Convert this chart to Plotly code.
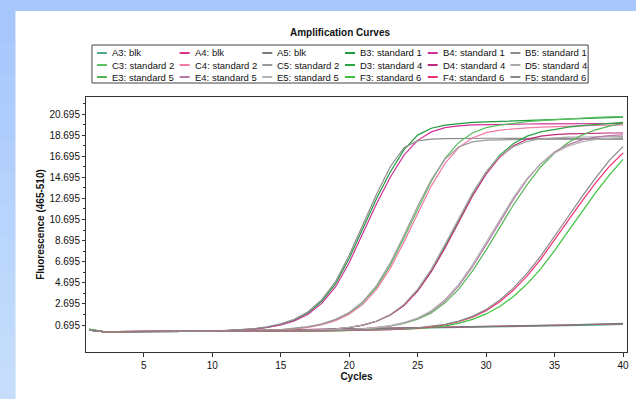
import plotly.graph_objects as go
import numpy as np

cycles = list(range(1, 41))

series_names = ["A3: blk", "A4: blk", "A5: blk",
                "B3: standard 1", "B4: standard 1", "B5: standard 1",
                "C3: standard 2", "C4: standard 2", "C5: standard 2",
                "D3: standard 4", "D4: standard 4", "D5: standard 4",
                "E3: standard 5", "E4: standard 5", "E5: standard 5",
                "F3: standard 6", "F4: standard 6", "F5: standard 6"]

A3 = [0.25,0.08,0.06,0.06,0.07,0.08,0.09,0.10,0.11,0.12,0.13,0.14,0.16,0.17,0.18,0.20,0.21,0.23,0.24,0.26,
      0.28,0.30,0.32,0.34,0.36,0.38,0.40,0.42,0.45,0.47,0.50,0.52,0.55,0.57,0.60,0.63,0.66,0.69,0.72,0.75]
A4 = [0.20,0.08,0.07,0.07,0.08,0.09,0.10,0.11,0.12,0.14,0.15,0.17,0.18,0.20,0.22,0.23,0.25,0.27,0.29,0.31,
      0.33,0.35,0.37,0.39,0.41,0.44,0.46,0.48,0.51,0.53,0.56,0.58,0.61,0.64,0.67,0.70,0.73,0.76,0.79,0.82]
A5 = [0.22,0.07,0.06,0.07,0.08,0.09,0.10,0.11,0.13,0.14,0.16,0.17,0.19,0.21,0.22,0.24,0.26,0.28,0.30,0.32,
      0.34,0.36,0.38,0.40,0.43,0.45,0.47,0.50,0.52,0.55,0.57,0.60,0.63,0.66,0.69,0.72,0.75,0.78,0.82,0.86]
B3 = [0.30,0.10,0.07,0.07,0.07,0.08,0.09,0.10,0.11,0.13,0.16,0.22,0.32,0.48,0.74,1.15,1.85,2.95,4.60,7.00,
      9.90,12.70,15.20,17.30,18.70,19.35,19.65,19.80,19.90,19.95,20.00,20.05,20.10,20.15,20.20,20.25,20.28,20.32,20.36,20.40]
B4 = [0.25,0.09,0.07,0.07,0.08,0.08,0.09,0.10,0.12,0.14,0.17,0.22,0.31,0.46,0.70,1.08,1.72,2.75,4.30,6.60,
      9.40,12.20,14.70,16.80,18.20,19.00,19.40,19.58,19.66,19.70,19.72,19.74,19.75,19.76,19.77,19.78,19.79,19.80,19.80,19.80]
B5 = [0.22,0.08,0.07,0.07,0.07,0.08,0.09,0.10,0.12,0.14,0.18,0.24,0.35,0.52,0.80,1.24,1.95,3.10,4.80,7.30,
      10.20,13.10,15.70,17.50,18.15,18.32,18.37,18.40,18.40,18.40,18.40,18.40,18.40,18.40,18.40,18.40,18.38,18.38,18.36,18.36]
C3 = [0.28,0.09,0.07,0.07,0.07,0.08,0.08,0.09,0.10,0.11,0.12,0.14,0.16,0.19,0.25,0.35,0.50,0.76,1.16,1.80,
      2.80,4.27,6.35,8.94,11.70,14.32,16.50,18.00,18.90,19.40,19.65,19.83,19.97,20.07,20.16,20.24,20.31,20.37,20.42,20.46]
C4 = [0.24,0.08,0.07,0.07,0.07,0.08,0.08,0.09,0.10,0.11,0.12,0.14,0.16,0.19,0.24,0.34,0.48,0.73,1.11,1.72,
      2.65,4.07,6.07,8.58,11.31,13.89,16.01,17.52,18.43,18.93,19.17,19.30,19.39,19.45,19.51,19.55,19.59,19.62,19.64,19.66]
C5 = [0.22,0.08,0.06,0.07,0.07,0.08,0.08,0.09,0.10,0.11,0.13,0.15,0.17,0.21,0.27,0.37,0.54,0.81,1.23,1.88,
      2.91,4.44,6.57,9.19,11.95,14.46,16.42,17.58,18.06,18.22,18.26,18.28,18.30,18.30,18.30,18.30,18.30,18.30,18.30,18.30]
D3 = [0.26,0.08,0.06,0.06,0.07,0.07,0.08,0.08,0.09,0.10,0.10,0.11,0.12,0.13,0.15,0.17,0.20,0.25,0.33,0.46,
      0.68,1.05,1.65,2.60,4.00,5.90,8.20,10.70,13.10,15.20,16.80,17.90,18.60,19.00,19.25,19.45,19.60,19.72,19.82,19.90]
D4 = [0.24,0.08,0.07,0.07,0.07,0.08,0.08,0.09,0.09,0.10,0.11,0.11,0.12,0.13,0.15,0.17,0.20,0.25,0.33,0.46,
      0.68,1.05,1.65,2.55,3.90,5.75,8.00,10.50,12.90,15.00,16.60,17.70,18.30,18.60,18.75,18.82,18.86,18.88,18.90,18.90]
D5 = [0.22,0.07,0.06,0.06,0.07,0.07,0.08,0.08,0.09,0.10,0.10,0.11,0.12,0.13,0.15,0.17,0.21,0.26,0.34,0.48,
      0.70,1.08,1.70,2.65,4.10,6.00,8.35,10.85,13.20,15.20,16.70,17.60,18.10,18.35,18.45,18.50,18.52,18.53,18.54,18.55]
E3 = [0.24,0.08,0.06,0.06,0.06,0.07,0.07,0.08,0.08,0.09,0.09,0.10,0.10,0.11,0.12,0.13,0.15,0.17,0.20,0.25,
      0.32,0.42,0.58,0.84,1.24,1.85,2.80,4.10,5.80,7.80,10.00,12.10,14.00,15.70,17.00,18.00,18.70,19.20,19.55,19.80]
E4 = [0.22,0.08,0.07,0.07,0.07,0.07,0.08,0.08,0.09,0.09,0.10,0.10,0.11,0.12,0.13,0.14,0.16,0.18,0.21,0.26,
      0.33,0.44,0.62,0.90,1.32,1.98,3.00,4.40,6.20,8.30,10.50,12.60,14.50,16.00,17.10,17.80,18.25,18.50,18.65,18.72]
E5 = [0.22,0.07,0.06,0.06,0.07,0.07,0.08,0.08,0.09,0.09,0.10,0.10,0.11,0.12,0.13,0.14,0.16,0.19,0.22,0.27,
      0.34,0.45,0.64,0.93,1.36,2.05,3.10,4.55,6.40,8.55,10.75,12.80,14.60,16.00,17.00,17.65,18.05,18.28,18.40,18.46]
F3 = [0.24,0.08,0.06,0.06,0.06,0.06,0.07,0.07,0.08,0.08,0.09,0.09,0.10,0.10,0.11,0.11,0.12,0.13,0.15,0.17,
      0.19,0.22,0.25,0.30,0.36,0.46,0.62,0.86,1.23,1.75,2.45,3.40,4.60,6.05,7.75,9.60,11.45,13.25,14.90,16.40]
F4 = [0.20,0.07,0.06,0.06,0.06,0.07,0.07,0.08,0.08,0.09,0.09,0.10,0.10,0.11,0.12,0.12,0.13,0.15,0.16,0.18,
      0.20,0.23,0.27,0.32,0.41,0.53,0.72,1.01,1.44,2.06,2.91,4.01,5.36,6.95,8.73,10.62,12.45,14.17,15.74,17.00]
F5 = [0.22,0.07,0.06,0.06,0.06,0.06,0.07,0.07,0.08,0.08,0.09,0.09,0.10,0.10,0.11,0.12,0.13,0.14,0.16,0.18,
      0.20,0.23,0.27,0.33,0.42,0.56,0.76,1.06,1.52,2.17,3.07,4.22,5.62,7.26,9.08,10.98,12.86,14.64,16.30,17.60]

series_values = [A3, A4, A5, B3, B4, B5, C3, C4, C5, D3, D4, D5, E3, E4, E5, F3, F4, F5]

series_colors = ["#4fae86", "#e0338a", "#7a7a7a",
                 "#1f9a3e", "#d0309a", "#8c8c8c",
                 "#5cc060", "#f27aa6", "#9a9a9a",
                 "#2aa545", "#c02a7a", "#a8a8a8",
                 "#55b555", "#b878a8", "#b4b4b4",
                 "#3cc23c", "#f0306e", "#888888"]

y_ticks = [0.695 + 2 * k for k in range(11)]
x_ticks = [5, 10, 15, 20, 25, 30, 35, 40]

FONT = "Liberation Sans, Arial, sans-serif"
W, H = 636, 399
L, R, T, B = 86, 7, 97, 47
PW, PH = W - L - R, H - T - B


def px(xp):
    return (xp - L) / PW


def py(yp):
    return (H - B - yp) / PH


fig = go.Figure()
for name, vals, col in zip(series_names, series_values, series_colors):
    fig.add_trace(go.Scatter(x=cycles, y=vals, mode="lines", name=name,
                             line=dict(color=col, width=1.2), showlegend=False))

shapes = []
shapes.append(dict(type="rect", xref="paper", yref="paper", layer="below",
                   x0=px(15), x1=px(W + 2), y0=py(H + 2), y1=py(11),
                   fillcolor="white", line=dict(width=0)))
n_b = 12
top_c = np.array([0xa6, 0xc6, 0xfc])
bot_c = np.array([0xc8, 0xe0, 0xfc])
for i in range(n_b):
    y0p = 11 + (H - 11) * i / n_b
    y1p = 11 + (H - 11) * (i + 1) / n_b + 1
    c = top_c + (bot_c - top_c) * (i + 0.5) / n_b
    shapes.append(dict(type="rect", xref="paper", yref="paper", layer="below",
                       x0=px(-2), x1=px(15), y0=py(y1p), y1=py(y0p),
                       fillcolor="rgb(%d,%d,%d)" % tuple(c.astype(int)), line=dict(width=0)))

shapes.append(dict(type="rect", xref="paper", yref="paper",
                   x0=px(92), x1=px(590), y0=py(83), y1=py(45),
                   fillcolor="white", line=dict(color="#444", width=1)))

annotations = []
col_w = 83
row_y = [53, 65, 77]
for i, (name, col) in enumerate(zip(series_names, series_colors)):
    r, c = divmod(i, 6)
    x0 = 97 + col_w * c
    shapes.append(dict(type="line", xref="paper", yref="paper",
                       x0=px(x0), x1=px(x0 + 10), y0=py(row_y[r]), y1=py(row_y[r]),
                       line=dict(color=col, width=2)))
    annotations.append(dict(
        xref="paper", yref="paper", x=px(x0 + 13), y=py(row_y[r]),
        xanchor="left", yanchor="middle", showarrow=False,
        text=name, font=dict(family=FONT, size=9.5, color="#111")))

annotations.append(dict(xref="paper", yref="paper", x=px(341), y=py(32),
                        xanchor="center", yanchor="middle", showarrow=False,
                        text="<b>Amplification Curves</b>",
                        font=dict(family=FONT, size=10, color="#111")))

fig.update_layout(
    width=W, height=H,
    margin=dict(l=L, r=R, t=T, b=B),
    paper_bgcolor="#a6c6fc",
    plot_bgcolor="white",
    shapes=shapes,
    annotations=annotations,
    showlegend=False,
    font=dict(family=FONT, size=10, color="#111"),
)

fig.update_xaxes(range=[0.78, 40.29], tickvals=x_ticks, ticks="outside", ticklen=4,
                 tickcolor="#333", showgrid=False, zeroline=False,
                 showline=True, mirror=True, linecolor="#333", linewidth=1,
                 tickfont=dict(family=FONT, size=10, color="#111"),
                 title=dict(text="<b>Cycles</b>", standoff=2,
                            font=dict(family=FONT, size=10, color="#111")))
fig.update_yaxes(range=[-1.86, 22.31], tickvals=y_ticks,
                 ticktext=["%.3f" % v for v in y_ticks],
                 ticks="outside", ticklen=3, tickcolor="#333",
                 minor=dict(tickvals=[v + 1 for v in y_ticks], ticks="outside", ticklen=2, tickcolor="#333"),
                 showgrid=False, zeroline=False,
                 showline=True, mirror=True, linecolor="#333", linewidth=1,
                 tickfont=dict(family=FONT, size=10, color="#111"),
                 title=dict(text="<b>Fluorescence (465-510)</b>", standoff=2,
                            font=dict(family=FONT, size=10, color="#111")))

fig.write_html("out.html", config={"displayModeBar": False},
               post_script="document.body.style.margin='0';document.body.style.overflow='hidden';")
